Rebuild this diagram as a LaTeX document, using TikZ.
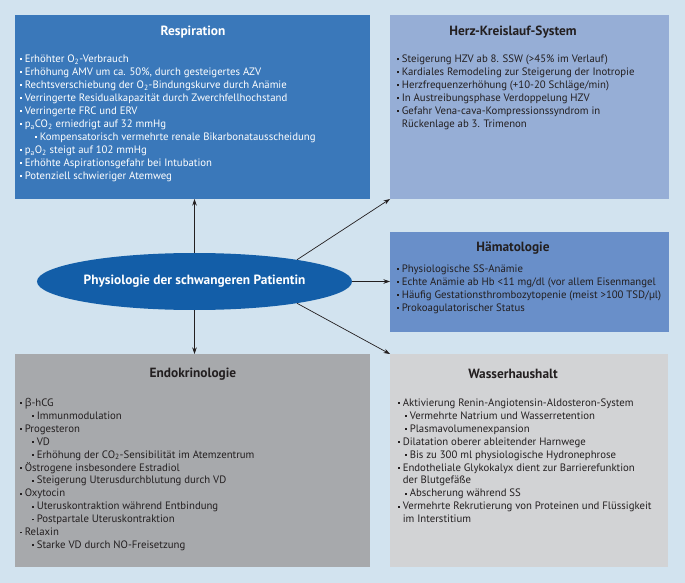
\documentclass[tikz,border=0pt]{standalone}
\usepackage{fontspec}
\setmainfont{PT Sans}
\newfontfamily\grk{Open Sans}
\usetikzlibrary{shapes.geometric,arrows.meta}
\definecolor{bgc}{RGB}{210,227,239}
\definecolor{respc}{RGB}{58,120,186}
\definecolor{herzc}{RGB}{150,174,214}
\definecolor{haemc}{RGB}{105,143,201}
\definecolor{endoc}{RGB}{167,169,172}
\definecolor{wasc}{RGB}{210,211,213}
\definecolor{ellc}{RGB}{19,94,168}
\definecolor{txtc}{RGB}{35,31,32}
\newcommand\bu{\makebox[4.6bp][l]{\raisebox{0.22em}{\rule{1.9bp}{1.9bp}}}}
\newcommand\ct{\hspace*{4.6bp}}
\newcommand\sbu[1]{\hspace*{#1}\bu}
\begin{document}
\begin{tikzpicture}[x=1bp,y=-1bp,
  panel/.style={draw=none, anchor=north west, inner sep=0, outer sep=0},
  ttl/.style={inner sep=0, text=txtc, font=\bfseries\fontsize{13.4}{15}\selectfont},
  body/.style={anchor=north west, inner sep=0, align=left, text=txtc,
    font=\fontsize{10.8}{13}\selectfont},
  conn/.style={draw=txtc, line width=0.7bp, -{Stealth[length=6.5bp,width=4.5bp]}}]
\fill[bgc] (0,0) rectangle (685,583);
\useasboundingbox (0,0) rectangle (685,583);
% panels
\node[panel, fill=respc, minimum width=355bp, minimum height=184bp] (resp) at (15,15) {};
\node[panel, fill=herzc, minimum width=279bp, minimum height=184bp] (herz) at (390,15) {};
\node[panel, fill=haemc, minimum width=279bp, minimum height=100bp] (haem) at (390,232) {};
\node[panel, fill=endoc, minimum width=355bp, minimum height=213bp] (endo) at (15,354) {};
\node[panel, fill=wasc, minimum width=278bp, minimum height=213bp] (was) at (390,354) {};
% titles
\node[ttl, text=white] (respt) at (193,32) {Respiration};
\node[ttl] (herzt) at (513,32) {Herz-Kreislauf-System};
\node[ttl] (haemt) at (513,248) {Hämatologie};
\node[ttl] (endot) at (193,374) {Endokrinologie};
\node[ttl] (wast) at (513,374) {Wasserhaushalt};
% bodies
\node[body, text=white] (respb) at (20,53.5) {\strut\bu Erhöhter O\textsubscript{2}-Verbrauch\\
\bu Erhöhung AMV um ca. 50\%, durch gesteigertes AZV\\
\bu Rechtsverschiebung der O\textsubscript{2}-Bindungskurve durch Anämie\\
\bu Verringerte Residualkapazität durch Zwerchfellhochstand\\
\bu Verringerte FRC und ERV\\
\bu p\textsubscript{a}CO\textsubscript{2} erniedrigt auf 32 mmHg\\
\sbu{15bp}Kompensatorisch vermehrte renale Bikarbonatausscheidung\\
\bu p\textsubscript{a}O\textsubscript{2} steigt auf 102 mmHg\\
\bu Erhöhte Aspirationsgefahr bei Intubation\\
\bu Potenziell schwieriger Atemweg};
\node[body] (herzb) at (397,53.5) {\strut\bu Steigerung HZV ab 8. SSW (>45\% im Verlauf)\\
\bu Kardiales Remodeling zur Steigerung der Inotropie\\
\bu Herzfrequenzerhöhung (+10-20 Schläge/min)\\
\bu In Austreibungsphase Verdoppelung HZV\\
\bu Gefahr Vena-cava-Kompressionssyndrom in\\
\ct Rückenlage ab 3. Trimenon};
\node[body] (haemb) at (397,263) {\strut\bu Physiologische SS-Anämie\\
\bu Echte Anämie ab Hb <11 mg/dl (vor allem Eisenmangel\\
\bu Häufig Gestationsthrombozytopenie (meist >100 TSD/µl)\\
\bu Prokoagulatorischer Status};
\node[body] (endob) at (20,397) {\strut\bu {\grk β}-hCG\\
\sbu{12bp}Immunmodulation\\
\bu Progesteron\\
\sbu{12bp}VD\\
\sbu{12bp}Erhöhung der CO\textsubscript{2}-Sensibilität im Atemzentrum\\
\bu Östrogene insbesondere Estradiol\\
\sbu{12bp}Steigerung Uterusdurchblutung durch VD\\
\bu Oxytocin\\
\sbu{12bp}Uteruskontraktion während Entbindung\\
\sbu{12bp}Postpartale Uteruskontraktion\\
\bu Relaxin\\
\sbu{12bp}Starke VD durch NO-Freisetzung};
\node[body] (wasb) at (398,397) {\strut\bu Aktivierung Renin-Angiotensin-Aldosteron-System\\
\sbu{7bp}Vermehrte Natrium und Wasserretention\\
\sbu{7bp}Plasmavolumenexpansion\\
\bu Dilatation oberer ableitender Harnwege\\
\sbu{7bp}Bis zu 300 ml physiologische Hydronephrose\\
\bu Endotheliale Glykokalyx dient zur Barrierefunktion\\
\ct der Blutgefäße\\
\sbu{7bp}Abscherung während SS\\
\bu Vermehrte Rekrutierung von Proteinen und Flüssigkeit\\
\ct im Interstitium};
% centre
\node[ellipse, fill=ellc, inner sep=0, minimum width=315bp, minimum height=57bp,
  text=white, font=\bfseries\fontsize{13.4}{15}\selectfont] (e) at (194.5,281.5)
  {Physiologie der schwangeren Patientin};
% connectors
\draw[conn] (e.north) -- (e.north |- resp.south);
\draw[conn] (e.south) -- (e.south |- endo.north);
\draw[conn] (e.east) -- (e.east -| haem.west);
\draw[conn] (e.12) -- (herz.south west);
\draw[conn] (e.-12) -- (was.north west);
\end{tikzpicture}
\end{document}
